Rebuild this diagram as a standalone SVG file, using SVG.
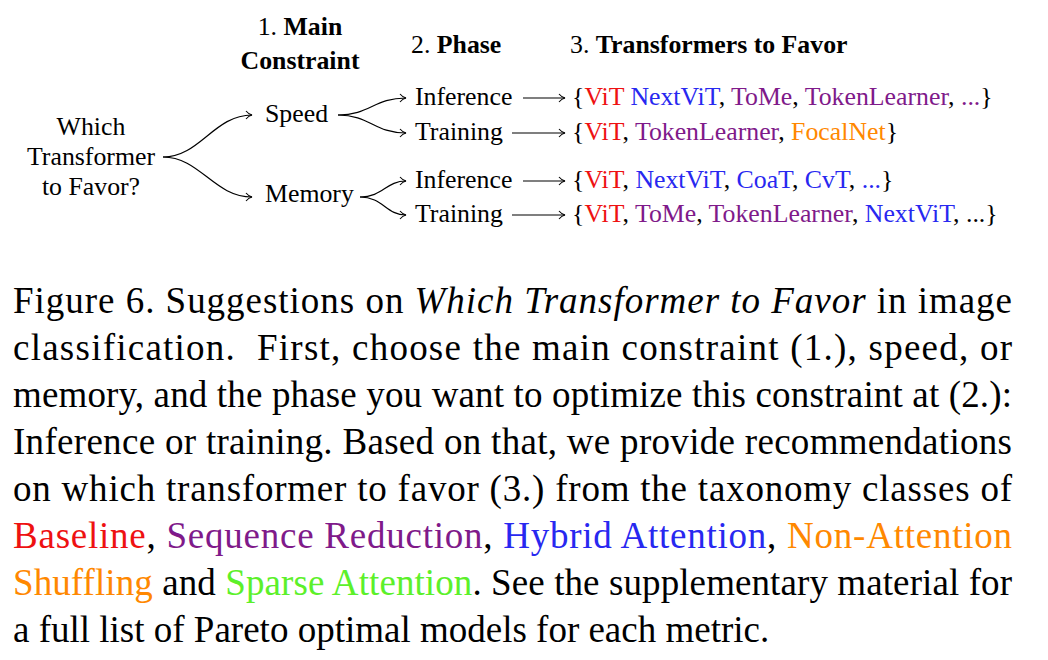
<svg xmlns="http://www.w3.org/2000/svg" width="1048" height="660" viewBox="0 0 1048 660">
<defs>
<marker id="arr" viewBox="-8 -6 10 12" refX="0" refY="0" markerWidth="10" markerHeight="12" markerUnits="userSpaceOnUse" orient="auto">
<path d="M-6,-4 C-4,-1.6 -2,-0.5 0,0 C-2,0.5 -4,1.6 -6,4" fill="none" stroke="#000" stroke-width="1.1"/>
</marker>
<style>
text{font-family:"Liberation Serif","Times New Roman",serif;fill:#000}
.d{font-size:25.8px}
.b{font-weight:bold}
.c{font-size:37px}
.i{font-style:italic}
.r{fill:#ee1111}
.p{fill:#7f1a8a}
.u{fill:#2828f0}
.o{fill:#ff8800}
.g{fill:#5cf02a}
.con path,.con line{fill:none;stroke:#000;stroke-width:1.2;marker-end:url(#arr)}
</style>
</defs>
<rect width="1048" height="660" fill="#fff"/>

<g id="headers">
<text class="d" x="300" y="35" text-anchor="middle">1. <tspan class="b">Main</tspan></text>
<text class="d b" x="300" y="69" text-anchor="middle">Constraint</text>
<text class="d" x="411" y="53">2. <tspan class="b">Phase</tspan></text>
<text class="d" x="570" y="53">3. <tspan class="b">Transformers to Favor</tspan></text>
</g>

<g id="root">
<text class="d" x="91" y="135" text-anchor="middle">Which</text>
<text class="d" x="91" y="165" text-anchor="middle">Transformer</text>
<text class="d" x="91" y="195" text-anchor="middle">to Favor?</text>
</g>
<g id="speed"><text class="d" x="265" y="122">Speed</text></g>
<g id="memory"><text class="d" x="265" y="202">Memory</text></g>
<g id="speed-inference"><text class="d" x="415" y="105">Inference</text></g>
<g id="speed-training"><text class="d" x="415" y="140">Training</text></g>
<g id="memory-inference"><text class="d" x="415" y="188">Inference</text></g>
<g id="memory-training"><text class="d" x="415" y="222">Training</text></g>

<g id="set-speed-inference"><text class="d" x="572" y="105">{<tspan class="r">ViT</tspan> <tspan class="u">NextViT</tspan>, <tspan class="p">ToMe</tspan>, <tspan class="p">TokenLearner</tspan>, <tspan class="p">...</tspan>}</text></g>
<g id="set-speed-training"><text class="d" x="572" y="140">{<tspan class="r">ViT</tspan>, <tspan class="p">TokenLearner</tspan>, <tspan class="o">FocalNet</tspan>}</text></g>
<g id="set-memory-inference"><text class="d" x="572" y="188">{<tspan class="r">ViT</tspan>, <tspan class="u">NextViT</tspan>, <tspan class="u">CoaT</tspan>, <tspan class="u">CvT</tspan>, <tspan class="u">...</tspan>}</text></g>
<g id="set-memory-training"><text class="d" x="572" y="222">{<tspan class="r">ViT</tspan>, <tspan class="p">ToMe</tspan>, <tspan class="p">TokenLearner</tspan>, <tspan class="u">NextViT</tspan>, ...}</text></g>

<g id="connectors" class="con">
<path d="M163,157 C200,157 214,115 252,115"/>
<path d="M163,157 C200,157 214,197 252,197"/>
<path d="M338,115 C370,115 374,98 406,98"/>
<path d="M338,115 C370,115 374,133 406,133"/>
<path d="M360,197 C383,197 386,181 406,181"/>
<path d="M360,197 C383,197 386,215 406,215"/>
<line x1="523" y1="98" x2="565" y2="98"/>
<line x1="512" y1="133" x2="565" y2="133"/>
<line x1="523" y1="181" x2="565" y2="181"/>
<line x1="512" y1="215" x2="565" y2="215"/>
</g>

<g id="caption">
<text class="c" x="13" y="313" textLength="999" lengthAdjust="spacing">Figure 6. Suggestions on <tspan class="i">Which Transformer to Favor</tspan> in image</text>
<text class="c" x="13" y="360" textLength="999" lengthAdjust="spacing">classification.&#160; First, choose the main constraint (1.), speed, or</text>
<text class="c" x="13" y="407" textLength="999" lengthAdjust="spacing">memory, and the phase you want to optimize this constraint at (2.):</text>
<text class="c" x="13" y="454" textLength="999" lengthAdjust="spacing">Inference or training. Based on that, we provide recommendations</text>
<text class="c" x="13" y="501" textLength="999" lengthAdjust="spacing">on which transformer to favor (3.) from the taxonomy classes of</text>
<text class="c" x="13" y="548" textLength="999" lengthAdjust="spacing"><tspan class="r">Baseline</tspan>, <tspan class="p">Sequence Reduction</tspan>, <tspan class="u">Hybrid Attention</tspan>, <tspan class="o">Non-Attention</tspan></text>
<text class="c" x="13" y="595" textLength="999" lengthAdjust="spacing"><tspan class="o">Shuffling</tspan> and <tspan class="g">Sparse Attention</tspan>. See the supplementary material for</text>
<text class="c" x="13" y="642">a full list of Pareto optimal models for each metric.</text>
</g>
</svg>
